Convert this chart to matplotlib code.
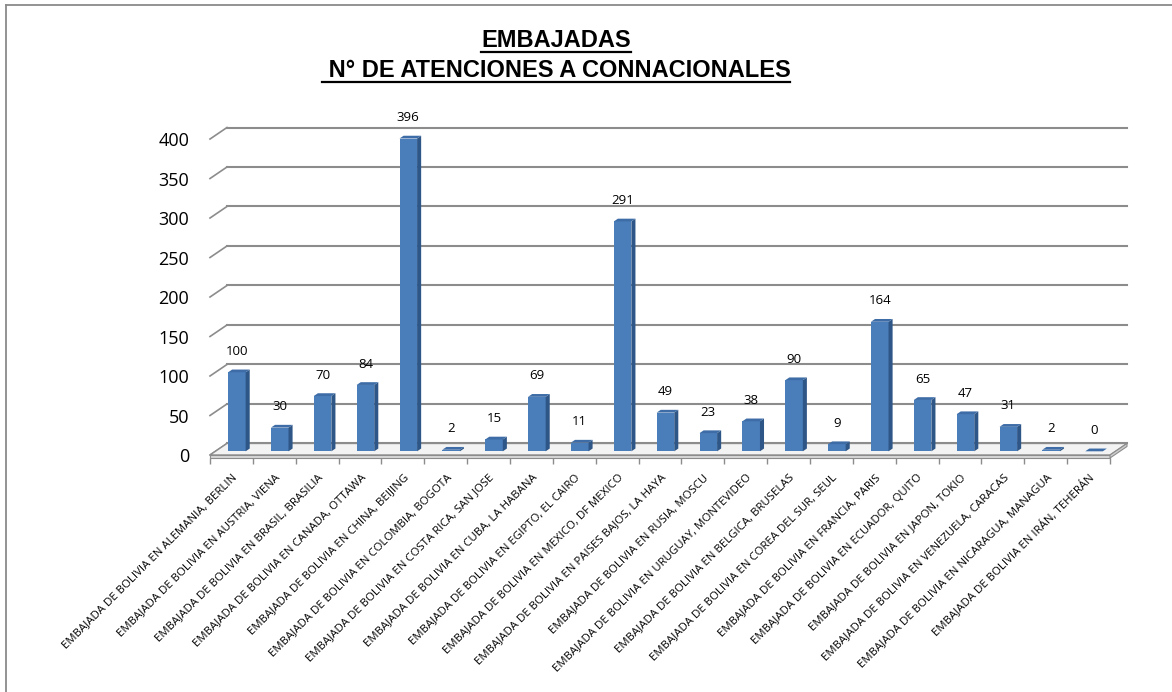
import matplotlib
matplotlib.use("Agg")
import matplotlib.pyplot as plt
from matplotlib.patches import Polygon, Rectangle
from matplotlib.lines import Line2D

plt.rcParams['font.family'] = ['Open Sans', 'DejaVu Sans']

# Datos
embajadas = [
    "EMBAJADA DE BOLIVIA EN ALEMANIA, BERLIN",
    "EMBAJADA DE BOLIVIA EN AUSTRIA, VIENA",
    "EMBAJADA DE BOLIVIA EN BRASIL, BRASILIA",
    "EMBAJADA DE BOLIVIA EN CANADA, OTTAWA",
    "EMBAJADA DE BOLIVIA EN CHINA, BEIJING",
    "EMBAJADA DE BOLIVIA EN COLOMBIA, BOGOTA",
    "EMBAJADA DE BOLIVIA EN COSTA RICA, SAN JOSE",
    "EMBAJADA DE BOLIVIA EN CUBA, LA HABANA",
    "EMBAJADA DE BOLIVIA EN EGIPTO, EL CAIRO",
    "EMBAJADA DE BOLIVIA EN MEXICO, DF MEXICO",
    "EMBAJADA DE BOLIVIA EN PAISES BAJOS, LA HAYA",
    "EMBAJADA DE BOLIVIA EN RUSIA, MOSCU",
    "EMBAJADA DE BOLIVIA EN URUGUAY, MONTEVIDEO",
    "EMBAJADA DE BOLIVIA EN BELGICA, BRUSELAS",
    "EMBAJADA DE BOLIVIA EN COREA DEL SUR, SEUL",
    "EMBAJADA DE BOLIVIA EN FRANCIA, PARIS",
    "EMBAJADA DE BOLIVIA EN ECUADOR, QUITO",
    "EMBAJADA DE BOLIVIA EN JAPON, TOKIO",
    "EMBAJADA DE BOLIVIA EN VENEZUELA, CARACAS",
    "EMBAJADA DE BOLIVIA EN NICARAGUA, MANAGUA",
    "EMBAJADA DE BOLIVIA EN IRÁN, TEHERÁN",
]
atenciones = [100, 30, 70, 84, 396, 2, 15, 69, 11, 291, 49, 23, 38, 90, 9, 164, 65, 47, 31, 2, 0]
niveles = [0, 50, 100, 150, 200, 250, 300, 350, 400]

W, H = 1172, 692
fig = plt.figure(figsize=(W / 100, H / 100), dpi=100)

n = len(atenciones)
# profundidad del efecto 3D, en unidades de datos
dx3 = 0.396
dy3 = 14.6
grosor = 3.8
gris = '#8c8c8c'

ax = fig.add_axes([210 / W, 1 - 458 / H, 917 / W, 330.5 / H])
ax.set_xlim(0, n + dx3)
ax.set_ylim(-grosor, 400 + dy3)
for s in ax.spines.values():
    s.set_visible(False)

# pared del fondo y diagonales laterales
for v in niveles:
    ax.plot([dx3, n + dx3], [v + dy3, v + dy3], color=gris, lw=1.5, zorder=1, clip_on=False)
    ax.plot([0, dx3], [v, v + dy3], color=gris, lw=1.2, zorder=1, clip_on=False)

# piso
ax.add_patch(Polygon([(0, 0), (n, 0), (n + dx3, dy3), (dx3, dy3)], closed=True,
                     facecolor='#f3f3f3', edgecolor=gris, lw=1.0, zorder=2, clip_on=False))
ax.add_patch(Rectangle((0, -grosor), n, grosor, facecolor='#d8d8d8', edgecolor=gris,
                       lw=0.8, zorder=2, clip_on=False))
ax.add_patch(Polygon([(n, -grosor), (n + dx3, dy3 - grosor), (n + dx3, dy3), (n, 0)], closed=True,
                     facecolor='#cfcfcf', edgecolor=gris, lw=0.8, zorder=2, clip_on=False))

# barras
f0 = 0.32   # posicion de la cara frontal en la profundidad
fd = 0.24   # profundidad de la barra
w = 0.41
for i, v in enumerate(atenciones):
    x0 = i + 0.5 - w / 2 + f0 * dx3
    yb = f0 * dy3
    ex, ey = fd * dx3, fd * dy3
    ax.add_patch(Rectangle((x0, yb), w, v, facecolor='#4a7ebb', edgecolor='none', zorder=4, clip_on=False))
    ax.add_patch(Polygon([(x0 + w, yb), (x0 + w + ex, yb + ey), (x0 + w + ex, yb + v + ey), (x0 + w, yb + v)],
                         closed=True, facecolor='#2e5686', edgecolor='none', zorder=4, clip_on=False))
    ax.add_patch(Polygon([(x0, yb + v), (x0 + w, yb + v), (x0 + w + ex, yb + v + ey), (x0 + ex, yb + v + ey)],
                         closed=True, facecolor='#3d6ca6', edgecolor='none', zorder=4, clip_on=False))
    ax.annotate(str(v), (x0 + w / 2, yb + v), xytext=(0, 15), textcoords='offset points',
                ha='center', va='center', fontsize=9.5, zorder=5)

# ejes
ax.set_yticks(niveles)
ax.set_yticklabels([str(v) for v in niveles])
ax.tick_params(axis='y', length=0, pad=15, labelsize=13)
ax.set_xticks([i + 0.5 for i in range(n)])
ax.set_xticklabels(embajadas, rotation=45, ha='right', rotation_mode='anchor', fontsize=8.2)
ax.tick_params(axis='x', which='major', length=0, pad=10)
ax.set_xticks(range(n + 1), minor=True)
ax.tick_params(axis='x', which='minor', length=4, color=gris, width=1)

# marco
fig.add_artist(Line2D([6 / W, 6 / W], [0, 1 - 5 / H], transform=fig.transFigure, color='#8a8a8a', lw=1.3))
fig.add_artist(Line2D([6 / W, 1], [1 - 5 / H, 1 - 5 / H], transform=fig.transFigure, color='#8a8a8a', lw=1.3))

# titulo subrayado
t1 = fig.text(556 / W, 1 - 47 / H, "EMBAJADAS", ha='center', va='baseline',
              fontsize=17, fontweight='bold', family='Liberation Sans')
t2 = fig.text(556 / W, 1 - 77 / H, " N° DE ATENCIONES A CONNACIONALES", ha='center', va='baseline',
              fontsize=17, fontweight='bold', family='Liberation Sans')
fig.canvas.draw()
r = fig.canvas.get_renderer()
for t in (t1, t2):
    bb = t.get_window_extent(r)
    yl = t.get_transform().transform(t.get_position())[1] - 5
    fig.add_artist(Line2D([bb.x0 / W, bb.x1 / W], [yl / H, yl / H], transform=fig.transFigure,
                          color='black', lw=1.6))

fig.savefig('out.png', dpi=100)
